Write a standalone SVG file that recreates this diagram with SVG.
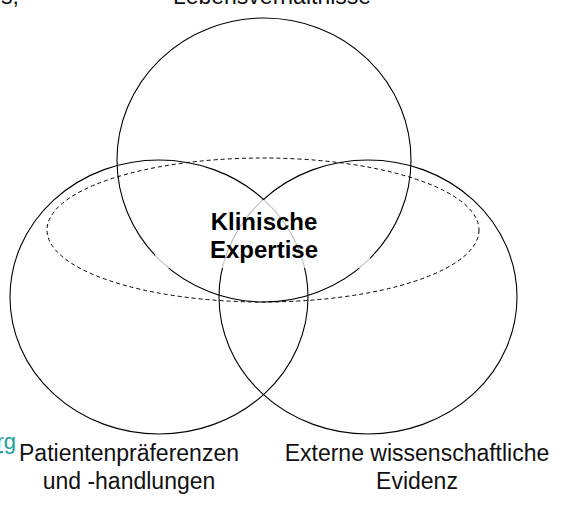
<svg xmlns="http://www.w3.org/2000/svg" width="561" height="525" viewBox="0 0 561 525">
<style>
.c{fill:none;stroke:#000;stroke-width:1.1}
.d{fill:none;stroke:#000;stroke-width:1;stroke-dasharray:4 3}
.t{font-family:"Liberation Sans",Arial,sans-serif;font-size:23px;fill:#111}
.b{font-weight:bold;font-size:24px;fill:#000}
.l{font-family:"Liberation Sans",Arial,sans-serif;font-size:22px;fill:#1a9e9e;text-decoration:underline}
</style>
<rect width="561" height="525" fill="#fff"/>
<g id="connectors"/>
<g id="lebens">
<ellipse class="c" cx="264" cy="160" rx="147" ry="142"/>
<text class="t" x="272" y="4" text-anchor="middle">Lebensverhältnisse</text>
</g>
<g id="patienten">
<ellipse class="c" cx="159" cy="297" rx="149" ry="137"/>
<text class="t" x="129" y="461" text-anchor="middle">Patientenpräferenzen</text>
<text class="t" x="129" y="489" text-anchor="middle">und -handlungen</text>
</g>
<g id="evidenz">
<ellipse class="c" cx="368" cy="297" rx="149" ry="137"/>
<text class="t" x="417" y="461" text-anchor="middle">Externe wissenschaftliche</text>
<text class="t" x="417" y="489" text-anchor="middle">Evidenz</text>
</g>
<g id="expertise">
<ellipse class="d" cx="263" cy="230" rx="216" ry="72"/>
<rect x="155" y="200" width="215" height="68" fill="#fff" fill-opacity="0.75"/>
<text class="t b" x="264" y="230" text-anchor="middle">Klinische</text>
<text class="t b" x="264" y="258" text-anchor="middle">Expertise</text>
</g>
<g id="caption">
<text class="t" x="19" y="4" text-anchor="end">is,</text>
</g>
<g id="link">
<text class="l" x="16" y="449" text-anchor="end">rg</text>
</g>
</svg>
